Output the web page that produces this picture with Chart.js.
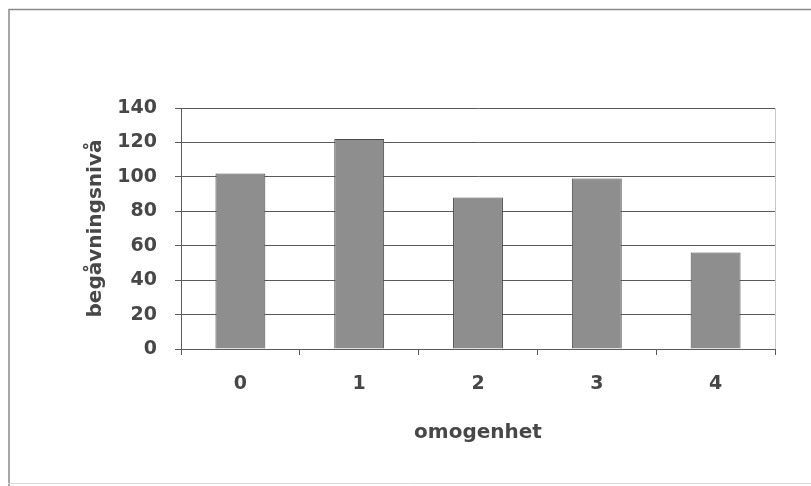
<!DOCTYPE html>
<html>
<head>
<meta charset="utf-8">
<script src="https://cdn.jsdelivr.net/npm/chart.js@4/dist/chart.umd.min.js"></script>
<style>
  html, body { margin: 0; padding: 0; background: #fff; }
  #wrap { width: 811px; height: 486px; }
</style>
</head>
<body>
<div id="wrap"><canvas id="c" width="811" height="486"></canvas></div>
<script>
// Chart data
const categories = ['0', '1', '2', '3', '4'];
const levels = [102, 122, 88, 99, 56];
const yTicks = [0, 20, 40, 60, 80, 100, 120, 140];

const xTitle = 'omogenhet';
const yTitle = 'begåvningsnivå';

const textColor = '#474747';
const gridColor = '#5a5a5a';

// frame around the whole picture plus the light right edge of the plot
const framePlugin = {
    id: 'frame',
    afterDraw(chart) {
        const ctx = chart.ctx;
        const area = chart.chartArea;
        ctx.save();
        ctx.strokeStyle = '#8a8a8a';
        ctx.lineWidth = 1.5;
        ctx.beginPath();
        ctx.moveTo(9, 486);
        ctx.lineTo(9, 9.5);
        ctx.lineTo(811, 9.5);
        ctx.stroke();
        ctx.strokeStyle = '#d8d8d8';
        ctx.lineWidth = 1;
        ctx.beginPath();
        ctx.moveTo(8, 483.5);
        ctx.lineTo(811, 483.5);
        ctx.stroke();
        ctx.strokeStyle = '#c8c8c8';
        ctx.beginPath();
        ctx.moveTo(Math.round(area.right) + 0.5, area.top);
        ctx.lineTo(Math.round(area.right) + 0.5, area.bottom);
        ctx.stroke();
        ctx.restore();
    }
};

new Chart(document.getElementById('c').getContext('2d'), {
    type: 'bar',
    data: {
        labels: categories,
        datasets: [{
            data: levels,
            backgroundColor: '#8e8e8e',
            borderColor: '#4a4a4a',
            borderWidth: 1,
            barPercentage: 0.42,
            categoryPercentage: 1
        }]
    },
    options: {
        responsive: false,
        animation: false,
        layout: { padding: { left: 80, top: 108, right: 36, bottom: 37 } },
        plugins: {
            legend: { display: false },
            tooltip: { enabled: false }
        },
        scales: {
            x: {
                offset: true,
                grid: {
                    offset: true,
                    drawOnChartArea: false,
                    tickLength: 6,
                    color: gridColor
                },
                border: { color: gridColor },
                ticks: {
                    padding: 18,
                    color: textColor,
                    font: { family: 'DejaVu Sans', size: 19, weight: 'bold' }
                },
                title: {
                    display: true,
                    text: xTitle,
                    color: textColor,
                    padding: { top: 4, bottom: 4 },
                    font: { family: 'DejaVu Sans', size: 20, weight: 'bold' }
                },
                afterFit(scale) { scale.height = 100; }
            },
            y: {
                min: 0,
                max: 140,
                afterBuildTicks(scale) {
                    scale.ticks = yTicks.map(v => ({ value: v }));
                },
                grid: {
                    tickLength: 6,
                    color: gridColor
                },
                border: { color: gridColor },
                ticks: {
                    padding: 18,
                    color: textColor,
                    font: { family: 'DejaVu Sans', size: 19, weight: 'bold' }
                },
                title: {
                    display: true,
                    text: yTitle,
                    color: textColor,
                    padding: { top: 4, bottom: 4 },
                    font: { family: 'DejaVu Sans', size: 20, weight: 'bold' }
                },
                afterFit(scale) { scale.width = 101; }
            }
        }
    },
    plugins: [framePlugin]
});
</script>
</body>
</html>
